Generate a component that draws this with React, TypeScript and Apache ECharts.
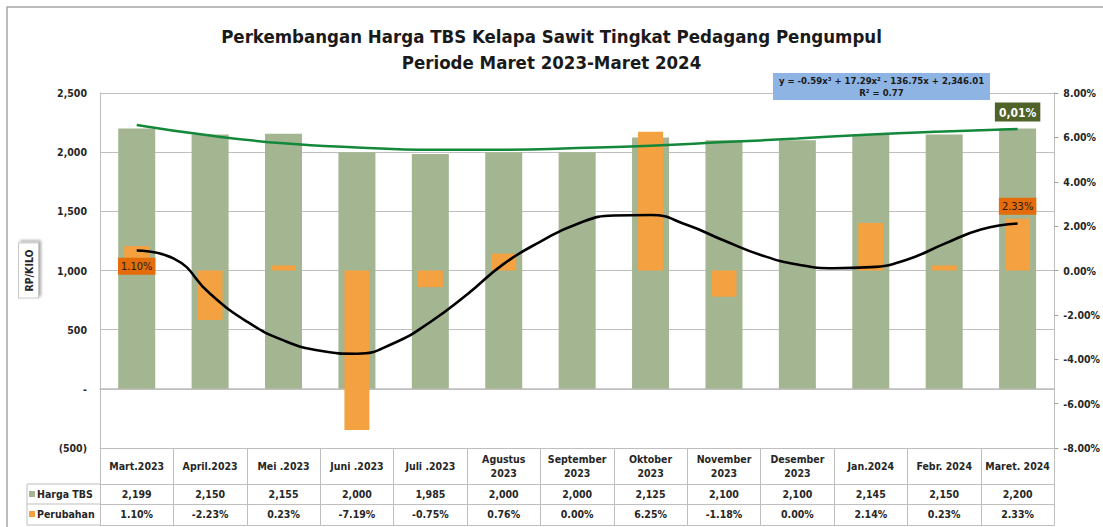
import React, { useEffect, useRef } from "react";
import * as echarts from "echarts";

const categories = [
  "Mart.2023", "April.2023", "Mei .2023", "Juni .2023", "Juli .2023",
  "Agustus\n2023", "September\n2023", "Oktober\n2023", "November\n2023",
  "Desember\n2023", "Jan.2024", "Febr. 2024", "Maret. 2024",
];
const hargaTBS = [2199, 2150, 2155, 2000, 1985, 2000, 2000, 2125, 2100, 2100, 2145, 2150, 2200];
const perubahan = [1.10, -2.23, 0.23, -7.19, -0.75, 0.76, 0.00, 6.25, -1.18, 0.00, 2.14, 0.23, 2.33];
// polynomial trend of Harga TBS, read at each month from the picture
const trendHarga = [2230, 2140, 2075, 2040, 2020, 2020, 2035, 2055, 2085, 2115, 2150, 2175, 2195];
// trend of Perubahan, every half month: position (0 = left edge of the plot) and percent
const trendPerubahanX = [0.5, 1.0, 1.5, 2.0, 2.5, 3.0, 3.5, 4.0, 4.5, 5.0, 5.5, 6.0, 6.5, 7.0, 7.5, 8.0, 8.5, 9.0, 9.5, 10.0, 10.5, 11.0, 11.5, 12.0, 12.5];
const trendPerubahanY = [0.9, 0.55, -1.05, -2.3, -3.15, -3.62, -3.75, -3.28, -2.32, -1.08, 0.3, 1.3, 2.1, 2.48, 2.5, 2.05, 1.35, 0.7, 0.27, 0.1, 0.15, 0.5, 1.2, 1.85, 2.12];
const leftTicks = [-500, 0, 500, 1000, 1500, 2000, 2500];
const rightTicks = [-8, -6, -4, -2, 0, 2, 4, 6, 8];

const FONT = "'DejaVu Sans Condensed', 'Open Sans', sans-serif";
const GRID = { left: 100, top: 93, right: 1103 - 1057, bottom: 527 - 448 };
const LINE_GRAY = "#BFBFBF";

const fmtThousands = (v: number) => v.toLocaleString("en-US");
const fmtLeft = (v: number) => (v === 0 ? "-" : v < 0 ? `(${fmtThousands(-v)})` : fmtThousands(v));
const fmtPct = (v: number) => v.toFixed(2) + "%";

export default function App() {
  const ref = useRef<HTMLDivElement>(null);
  useEffect(() => {
    if (!ref.current) return;
    const chart = echarts.init(ref.current, null, { renderer: "svg" });
    const tableAxisBase = {
      type: "category" as const,
      data: categories,
      gridIndex: 0,
      position: "bottom" as const,
      axisLine: { show: true, onZero: false, lineStyle: { color: LINE_GRAY, width: 1 } },
      axisTick: { show: false },
      splitLine: { show: false },
    };
    const tableText = { fontFamily: FONT, fontWeight: "bold" as const, fontSize: 10.5, color: "#262626" };
    const tableLeft = 27;
    const rowTops = [484, 504, 525];
    chart.setOption({
      animation: false,
      backgroundColor: "#ffffff",
      title: {
        text: "Perkembangan Harga TBS Kelapa Sawit Tingkat Pedagang Pengumpul\nPeriode Maret 2023-Maret 2024",
        left: "center",
        top: 23,
        padding: 0,
        textStyle: { fontFamily: FONT, fontWeight: "bold", fontSize: 18.5, lineHeight: 26, color: "#1a1a1a" },
      },
      grid: GRID,
      xAxis: [
        {
          type: "category",
          data: categories,
          axisLine: { show: true, onZero: true, onZeroAxisIndex: 0, lineStyle: { color: LINE_GRAY, width: 1.5 } },
          axisTick: { show: false },
          axisLabel: { show: false },
        },
        { type: "category", data: categories, show: false },
        {
          ...tableAxisBase,
          offset: 0,
          axisTick: { show: true, length: 77, interval: 0, lineStyle: { color: LINE_GRAY } },
          axisLabel: { ...tableText, interval: 0, margin: 18, verticalAlign: "middle", lineHeight: 14 },
        },
        {
          ...tableAxisBase,
          offset: 36,
          axisLabel: {
            ...tableText, interval: 0, margin: 10, verticalAlign: "middle",
            formatter: (_: string, i: number) => fmtThousands(hargaTBS[i]),
          },
        },
        {
          ...tableAxisBase,
          offset: 56,
          axisLabel: {
            ...tableText, interval: 0, margin: 10, verticalAlign: "middle",
            formatter: (_: string, i: number) => fmtPct(perubahan[i]),
          },
        },
        { ...tableAxisBase, offset: 77, axisLabel: { show: false } },
        { type: "value", min: 0, max: categories.length, show: false },
      ],
      yAxis: [
        {
          type: "value",
          min: leftTicks[0],
          max: leftTicks[leftTicks.length - 1],
          interval: 500,
          name: "RP/KILO",
          nameLocation: "middle",
          nameGap: 62,
          nameRotate: 90,
          nameTextStyle: {
            fontFamily: FONT, fontWeight: "bold", fontSize: 10.5, color: "#262626",
            backgroundColor: "#ffffff", borderColor: "#C8C8C8", borderWidth: 1,
            padding: [4, 6, 4, 6], shadowColor: "rgba(0,0,0,0.35)", shadowBlur: 3, shadowOffsetX: 2, shadowOffsetY: 2,
          },
          axisLine: { show: true, onZero: false, lineStyle: { color: LINE_GRAY } },
          axisTick: { show: false },
          axisLabel: { ...tableText, margin: 13, formatter: fmtLeft },
          splitLine: { show: true, lineStyle: { color: LINE_GRAY, width: 1.2 } },
        },
        {
          type: "value",
          min: rightTicks[0],
          max: rightTicks[rightTicks.length - 1],
          interval: 2,
          position: "right",
          axisLine: { show: true, onZero: false, lineStyle: { color: LINE_GRAY } },
          axisTick: { show: true, length: 4, lineStyle: { color: "#A0A0A0" } },
          axisLabel: { ...tableText, margin: 9, formatter: fmtPct },
          splitLine: { show: false },
        },
      ],
      series: [
        {
          name: "Harga TBS",
          type: "bar",
          xAxisIndex: 0,
          yAxisIndex: 0,
          data: hargaTBS.map((v, i) =>
            i === hargaTBS.length - 1
              ? {
                  value: v,
                  label: {
                    show: true, position: "top", distance: 7, formatter: "0,01%",
                    fontFamily: FONT, fontWeight: "bold", fontSize: 12, color: "#ffffff",
                    backgroundColor: "#4F6228", padding: [4, 4, 3, 4],
                  },
                }
              : v
          ),
          barWidth: 37,
          itemStyle: { color: "#A4B592" },
          z: 1,
        },
        {
          name: "Perubahan",
          type: "bar",
          xAxisIndex: 1,
          yAxisIndex: 1,
          data: perubahan.map((v, i) => {
            if (i === 0)
              return {
                value: v,
                label: {
                  show: true, position: "inside", offset: [0, 8], formatter: fmtPct(v),
                  fontFamily: FONT, fontSize: 11, color: "#2b1a08",
                  backgroundColor: "#E46C0A", padding: [3, 3, 3, 3],
                },
              };
            if (i === perubahan.length - 1)
              return {
                value: v,
                label: {
                  show: true, position: "top", distance: 4, formatter: fmtPct(v),
                  fontFamily: FONT, fontSize: 11, color: "#2b1a08",
                  backgroundColor: "#E46C0A", padding: [3, 3, 3, 3],
                },
              };
            return v;
          }),
          barWidth: 25,
          itemStyle: { color: "#F3A141" },
          z: 2,
        },
        {
          name: "Trend Harga",
          type: "line",
          xAxisIndex: 0,
          yAxisIndex: 0,
          data: trendHarga,
          smooth: true,
          symbol: "none",
          lineStyle: { color: "#13883A", width: 2.5 },
          z: 5,
        },
        {
          name: "Trend Perubahan",
          type: "line",
          xAxisIndex: 6,
          yAxisIndex: 1,
          data: trendPerubahanX.map((x, i) => [x, trendPerubahanY[i]]),
          smooth: 0.5,
          symbol: "none",
          lineStyle: { color: "#000000", width: 2.6 },
          z: 4,
        },
      ],
      graphic: [
        { type: "rect", shape: { x: 7, y: 7, width: 1120, height: 540 }, style: { fill: "none", stroke: "#A6A6A6", lineWidth: 1.5 }, silent: true },
        { type: "line", shape: { x1: tableLeft, y1: rowTops[0], x2: GRID.left, y2: rowTops[0] }, style: { stroke: LINE_GRAY, lineWidth: 1 } },
        { type: "line", shape: { x1: tableLeft, y1: rowTops[1], x2: GRID.left, y2: rowTops[1] }, style: { stroke: LINE_GRAY, lineWidth: 1 } },
        { type: "line", shape: { x1: tableLeft, y1: rowTops[2], x2: GRID.left, y2: rowTops[2] }, style: { stroke: LINE_GRAY, lineWidth: 1 } },
        { type: "line", shape: { x1: tableLeft, y1: rowTops[0], x2: tableLeft, y2: rowTops[2] }, style: { stroke: LINE_GRAY, lineWidth: 1 } },
        { type: "rect", shape: { x: 29, y: 491, width: 6, height: 6 }, style: { fill: "#A4B592" } },
        { type: "text", x: 37, y: 494, style: { text: "Harga TBS", fill: "#262626", verticalAlign: "middle", font: `bold 10.5px ${FONT}` } },
        { type: "rect", shape: { x: 29, y: 511, width: 6, height: 6 }, style: { fill: "#F3A141" } },
        { type: "text", x: 37, y: 514, style: { text: "Perubahan", fill: "#262626", verticalAlign: "middle", font: `bold 10.5px ${FONT}` } },
        { type: "rect", shape: { x: 773, y: 73, width: 217, height: 27 }, style: { fill: "#8EB4E3" }, z: 10 },
        {
          type: "text", x: 881.5, y: 86.5, z: 11,
          style: {
            text: "y = -0.59x³ + 17.29x² - 136.75x + 2,346.01\nR² = 0.77",
            align: "center", verticalAlign: "middle", lineHeight: 12.5,
            font: `bold 9.5px ${FONT}`, fill: "#1a1a1a",
          },
        },
      ],
    });
    return () => chart.dispose();
  }, []);
  return (
    <div
      ref={ref}
      style={{ position: "absolute", left: 0, top: 0, width: 1103, height: 527, background: "#fff" }}
    />
  );
}
